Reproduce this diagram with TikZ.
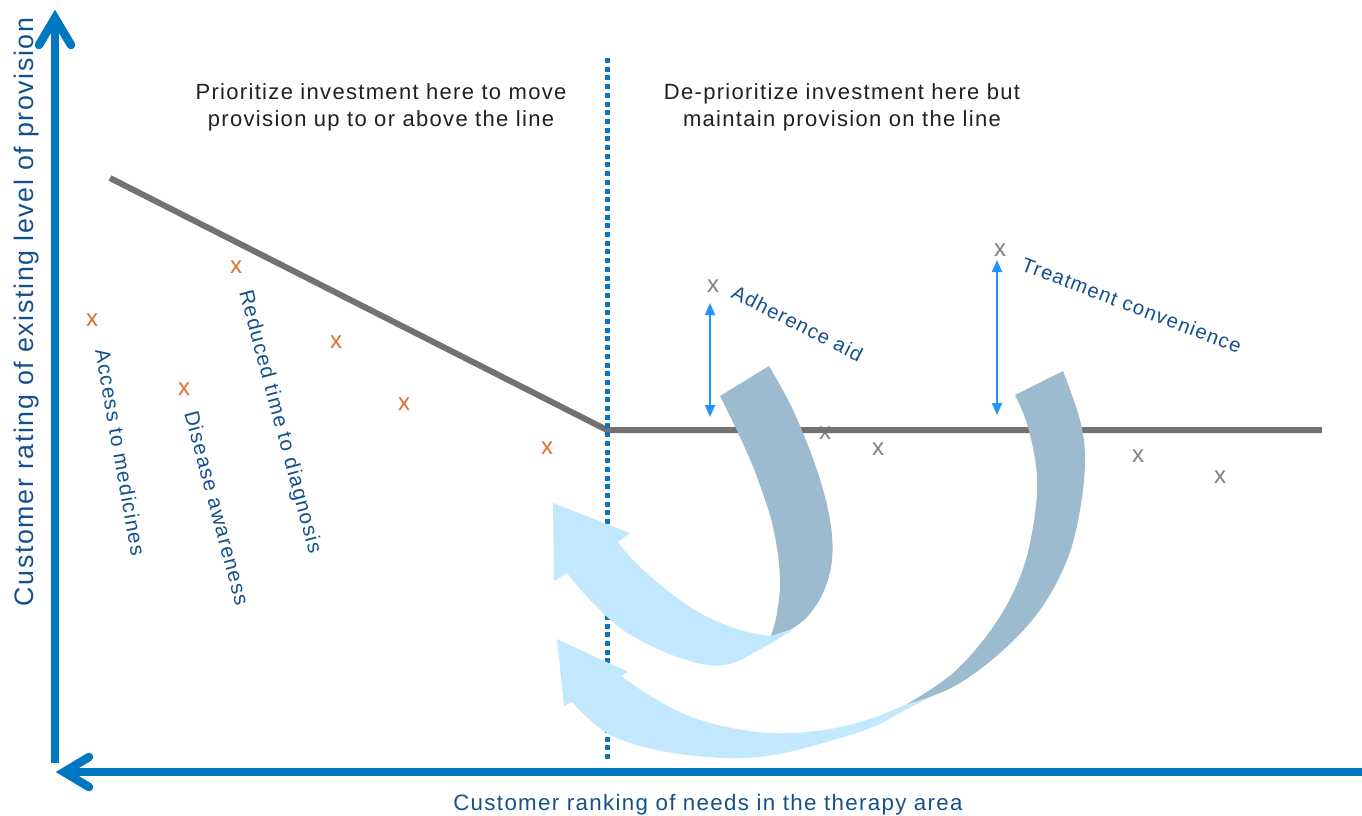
\documentclass[tikz,border=0pt]{standalone}
\usepackage{fontspec}
\setmainfont{Liberation Sans}[LetterSpace=6]
\newfontfamily\mkfont{Liberation Sans}
\usetikzlibrary{arrows.meta}
\definecolor{axisblue}{RGB}{0,120,193}
\definecolor{dotblue}{RGB}{10,116,198}
\definecolor{lineg}{RGB}{118,113,113}
\definecolor{orng}{RGB}{227,108,47}
\definecolor{grx}{RGB}{128,128,128}
\definecolor{labblue}{RGB}{22,80,140}
\definecolor{headtxt}{RGB}{35,31,32}
\definecolor{arrblue}{RGB}{30,150,250}
\definecolor{darkrib}{RGB}{157,187,206}
\definecolor{lightrib}{RGB}{193,232,253}
\tikzset{
  axisline/.style={draw=axisblue,line width=8.5pt},
  axishead/.style={draw=axisblue,line width=8.5pt,line cap=round,line join=miter},
  provline/.style={draw=lineg,line width=6pt},
  dotline/.style={draw=dotblue,line width=5pt,dash pattern=on 5pt off 3.7pt},
  omark/.style={inner sep=0pt,text=orng,font=\mkfont\fontsize{24}{24}\selectfont},
  gmark/.style={inner sep=0pt,text=grx,font=\mkfont\fontsize{24}{24}\selectfont},
  needlabel/.style={inner sep=0pt,text=labblue,font=\fontsize{20.8}{24}\selectfont,anchor=base west},
  headlabel/.style={inner sep=0pt,text=headtxt,align=center,font=\fontsize{22}{26.5}\selectfont},
  axislabel/.style={inner sep=0pt,text=labblue,anchor=base},
  gaparrow/.style={draw=arrblue,line width=1.8pt,{Triangle[length=12pt,width=10pt]}-{Triangle[length=12pt,width=10pt]}},
}
\begin{document}
\begin{tikzpicture}[x=1pt,y=-1pt]
\useasboundingbox (0,0) rectangle (1362,815);
% markers under the line
\node[gmark] (g1) at (825,433) {x};
% provision line
\coordinate (p0) at (110,178);
\coordinate (pk) at (607,430);
\coordinate (p1) at (1322,430);
\draw[provline] (p0) -- (pk) -- (p1);
% markers
\node[omark] (o1) at (92,320) {x};
\node[omark] (o2) at (236,267) {x};
\node[omark] (o3) at (184,389) {x};
\node[omark] (o4) at (336,342) {x};
\node[omark] (o5) at (404,404) {x};
\node[omark] (o6) at (547,448) {x};
\node[gmark] (g2) at (878,449) {x};
\node[gmark] (g3) at (1138,456) {x};
\node[gmark] (g4) at (1220,477) {x};
\node[gmark] (ga) at (713,286) {x};
\node[gmark] (gt) at (1000,250) {x};
% dotted divider
\coordinate (d0) at (607,58);
\coordinate (d1) at (607,762);
\draw[dotline] (d0) -- (d1);
% gap arrows
\coordinate (a1t) at (710,303);
\coordinate (a1b) at (710,417);
\coordinate (a2t) at (997,260);
\coordinate (a2b) at (997,415);
\draw[gaparrow] (a1t) -- (a1b);
\draw[gaparrow] (a2t) -- (a2b);
% light ribbons
\fill[lightrib] (618,542) -- (630,533) -- (553,503) -- (554,581) -- (567,573)
  -- plot[smooth,tension=0.6] coordinates {(567,573) (590,600) (623,630) (667,653) (707,665) (733,663) (753,653) (773,642) (793,630)}
  -- plot[smooth,tension=0.6] coordinates {(771,636) (740,630) (700,613) (663,587) (633,560) (618,542)} -- cycle;
\fill[lightrib] (621,676) -- (628,672) -- (557,639) -- (564,706) -- (572,702)
  -- plot[smooth,tension=0.6] coordinates {(572,702) (607,733) (657,750) (723,758) (773,755) (823,743) (873,727) (907,709) (940,692) (962,680)}
  -- plot[smooth,tension=0.6] coordinates {(955,680) (907,704) (857,723) (807,732) (757,732) (700,720) (657,700) (621,676)} -- cycle;
% dark ribbons
\fill[darkrib] (720,396) -- (769,366)
  -- plot[smooth,tension=0.6] coordinates {(769,366) (793,410) (817,470) (830,520) (832,560) (823,593) (807,617) (790,630)}
  -- plot[smooth,tension=0.6] coordinates {(771,636) (777,613) (780,577) (773,527) (757,477) (740,437) (720,396)} -- cycle;
\fill[darkrib] (1015,395) -- (1063,371)
  -- plot[smooth,tension=0.6] coordinates {(1063,371) (1080,420) (1085,460) (1080,510) (1067,560) (1040,610) (1000,653) (953,687) (907,704)}
  -- plot[smooth,tension=0.6] coordinates {(907,704) (953,673) (993,627) (1020,577) (1033,527) (1037,477) (1028,427) (1015,395)} -- cycle;
% axes
\coordinate (yo) at (55,763);
\coordinate (yv) at (55,18);
\coordinate (yl) at (39,45);
\coordinate (yr) at (71,45);
\draw[axisline] (yo) -- (yv);
\draw[axishead] (yl) -- (yv) -- (yr);
\coordinate (xo) at (1362,772);
\coordinate (xv) at (64,772);
\coordinate (xu) at (89,757);
\coordinate (xd) at (89,787);
\draw[axisline] (xo) -- (xv);
\draw[axishead] (xu) -- (xv) -- (xd);
% texts
\node[axislabel,rotate=90,font=\fontsize{26.8}{26.8}\selectfont] (ylab) at (33,312) {Customer rating of existing level of provision};
\node[axislabel,font=\fontsize{22.3}{22.3}\selectfont] (xlab) at (708,810) {Customer ranking of needs in the therapy area};
\node[headlabel] (h1) at (381,107.5) {Prioritize investment here to move\\provision up to or above the line};
\node[headlabel] (h2) at (842,107.5) {De-prioritize investment here but\\maintain provision on the line};
\node[needlabel,rotate=-80] (l1) at (95,350) {Access to medicines};
\node[needlabel,rotate=-75] (l2) at (184,413) {Disease awareness};
\node[needlabel,rotate=-75] (l3) at (239,292) {Reduced time to diagnosis};
\node[needlabel,rotate=-27,font=\fontsize{20.2}{24}\selectfont] (l4) at (730,297) {Adherence aid};
\node[needlabel,rotate=-21,font=\fontsize{20.2}{24}\selectfont] (l5) at (1020,270) {Treatment convenience};
\end{tikzpicture}
\end{document}
